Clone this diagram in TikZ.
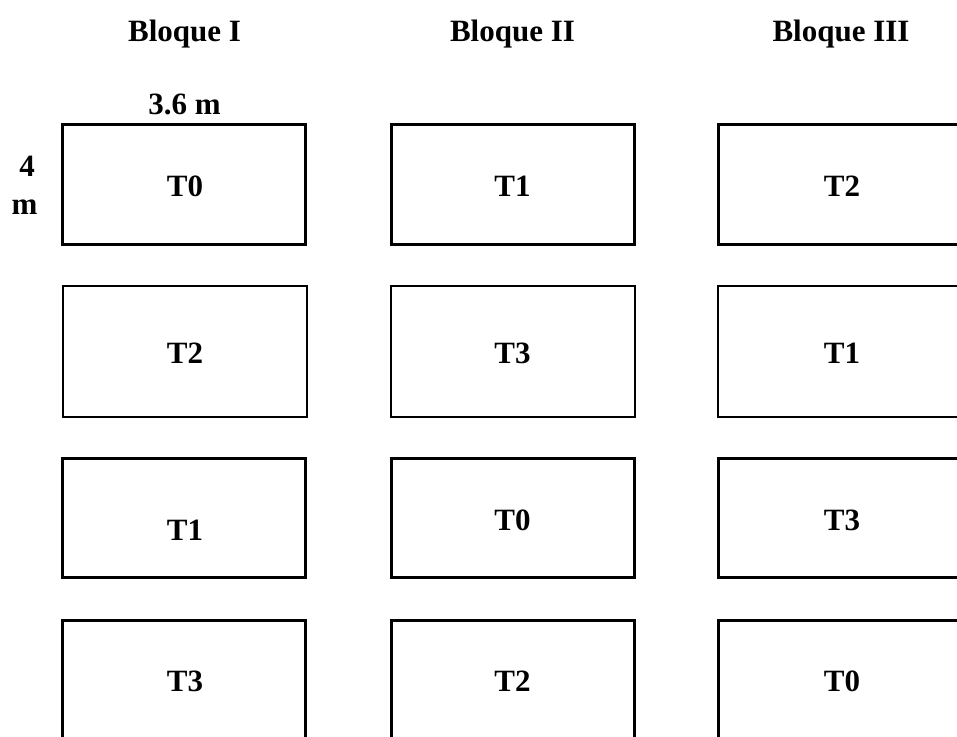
\documentclass[tikz,border=0pt]{standalone}
\usepackage{fontspec}
\setmainfont{Liberation Serif}
\begin{document}
\begin{tikzpicture}[x=1pt,y=-1pt,
  plot/.style={draw=black,rectangle,inner sep=0pt,line width=#1},
  plot/.default=3pt,
  lbl/.style={anchor=base,inner sep=0pt,font=\fontsize{31}{31}\selectfont\bfseries}]
\useasboundingbox (0,0) rectangle (957,736);
\clip (0,0) rectangle (957,736);
% headers
\node[lbl] (h1) at (184.5,41) {Bloque I};
\node[lbl] (h2) at (512.5,41) {Bloque II};
\node[lbl] (h3) at (841,41) {Bloque III};
\node[lbl] (w) at (184.5,114.3) {3.6 m};
\node[lbl] (h4) at (27,176.7) {4};
\node[lbl] (hm) at (24.5,214.3) {m};
% row 1
\node[plot,minimum width=243pt,minimum height=120pt] (b11) at (184,184.5) {};
\node[plot,minimum width=243pt,minimum height=120pt] (b12) at (512.5,184.5) {};
\node[plot,minimum width=243pt,minimum height=120pt] (b13) at (840,184.5) {};
% row 2
\node[plot=2pt,minimum width=244pt,minimum height=131pt] (b21) at (184.5,351.5) {};
\node[plot=2pt,minimum width=244pt,minimum height=131pt] (b22) at (512.5,351.5) {};
\node[plot=2pt,minimum width=244pt,minimum height=131pt] (b23) at (840,351.5) {};
% row 3
\node[plot,minimum width=243pt,minimum height=119pt] (b31) at (184,518) {};
\node[plot,minimum width=243pt,minimum height=119pt] (b32) at (512.5,518) {};
\node[plot,minimum width=243pt,minimum height=119pt] (b33) at (840,518) {};
% row 4
\node[plot,minimum width=243pt,minimum height=120pt] (b41) at (184,680.5) {};
\node[plot,minimum width=243pt,minimum height=120pt] (b42) at (512.5,680.5) {};
\node[plot,minimum width=243pt,minimum height=120pt] (b43) at (840,680.5) {};
% treatments
\node[lbl] (t11) at (185,196.7) {T0};
\node[lbl] (t12) at (512.5,196.7) {T1};
\node[lbl] (t13) at (842,196.7) {T2};
\node[lbl] (t21) at (185,363.3) {T2};
\node[lbl] (t22) at (512.5,363.3) {T3};
\node[lbl] (t23) at (842,363.3) {T1};
\node[lbl] (t31) at (185,540) {T1};
\node[lbl] (t32) at (512.5,530) {T0};
\node[lbl] (t33) at (842,530) {T3};
\node[lbl] (t41) at (185,691.7) {T3};
\node[lbl] (t42) at (512.5,691.7) {T2};
\node[lbl] (t43) at (842,691.7) {T0};
\end{tikzpicture}
\end{document}
